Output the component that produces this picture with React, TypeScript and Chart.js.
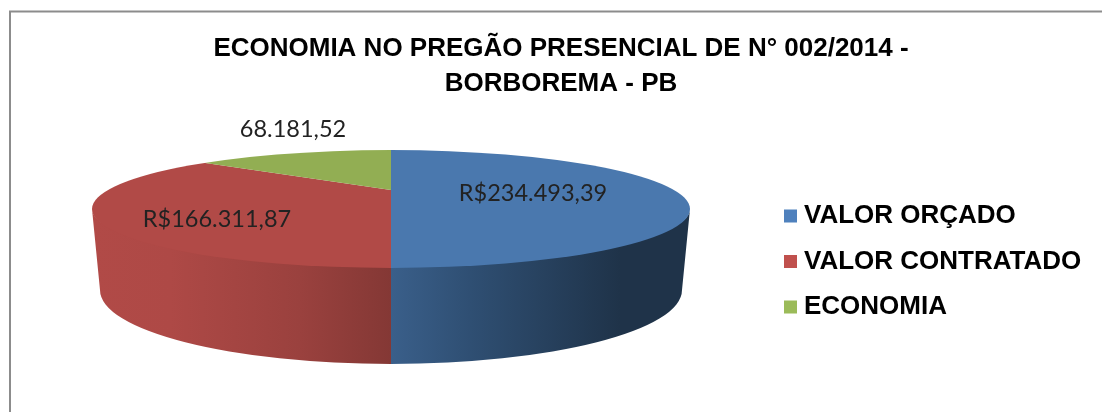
import React, { useEffect, useRef } from "react";
import { Chart, registerables } from "chart.js";

Chart.register(...registerables);

const titleLines = ["ECONOMIA NO PREGÃO PRESENCIAL DE N° 002/2014 -", "BORBOREMA - PB"];
const categories = ["VALOR ORÇADO", "VALOR CONTRATADO", "ECONOMIA"];
const values = [234493.39, 166311.87, 68181.52];
const valueLabels = ["R$234.493,39", "R$166.311,87", "68.181,52"];
const legendColors = ["#4F81BD", "#C0504D", "#9BBB59"];
const topColors = ["#4A78AE", "#B14A47", "#92AE53"];

const CX = 391;
const TOP = { cy: 209, rx: 299, ry: 59 };
const BOTTOM = { cy: 290, rx: 291, ry: 74 };
const LABEL_POS: [number, number][] = [[533, 193], [217, 219], [293, 129]];

const sideStops: [number, string][][] = [
  [[391, "#3A5F8A"], [470, "#2F4F73"], [620, "#1F3349"], [690, "#1F3349"]],
  [[92, "#B14A47"], [170, "#AE4946"], [300, "#9A413E"], [391, "#843835"]],
];

const LEGEND_PADDING = 19.5;
const LEGEND_FONT = 26;

const pie3d = {
  id: "pie3d",
  beforeDraw(chart: any) {
    const { ctx, width, height } = chart;
    ctx.save();
    ctx.fillStyle = "#fff";
    ctx.fillRect(0, 0, width, height);
    ctx.strokeStyle = "#8C8C8C";
    ctx.lineWidth = 2;
    ctx.strokeRect(10, 11.5, width + 20, height + 20);
    ctx.restore();
  },
  afterLayout(chart: any) {
    const l = chart.legend;
    const h = l.bottom - l.top;
    l.left = 784 - LEGEND_PADDING;
    l.right = 1102;
    l.top = 183.5;
    l.bottom = l.top + h;
  },
  beforeDatasetsDraw(chart: any) {
    const { ctx } = chart;
    const arcs = chart.getDatasetMeta(0).data;
    ctx.save();
    arcs.forEach((arc: any, i: number) => {
      const a = Math.max(arc.startAngle, 0);
      const b = Math.min(arc.endAngle, Math.PI);
      if (b <= a || !sideStops[i]) return;
      const stops = sideStops[i];
      const g = ctx.createLinearGradient(stops[0][0], 0, stops[stops.length - 1][0], 0);
      const span = stops[stops.length - 1][0] - stops[0][0];
      stops.forEach(([x, c]) => g.addColorStop((x - stops[0][0]) / span, c));
      ctx.fillStyle = g;
      ctx.beginPath();
      ctx.ellipse(CX, TOP.cy, TOP.rx, TOP.ry - 4, 0, a, b);
      ctx.ellipse(CX, BOTTOM.cy, BOTTOM.rx, BOTTOM.ry, 0, b, a, true);
      ctx.closePath();
      ctx.fill();
    });
    ctx.beginPath();
    ctx.ellipse(CX, TOP.cy, TOP.rx, TOP.ry, 0, 0, Math.PI * 2);
    ctx.clip();
    const arc = arcs[0];
    const R = arc.outerRadius;
    ctx.translate(CX, 190);
    ctx.scale(430 / R, 81 / R);
    ctx.translate(-arc.x, -arc.y);
  },
  afterDatasetsDraw(chart: any) {
    const { ctx } = chart;
    ctx.restore();
    ctx.save();
    ctx.font = "23.5px Lato";
    ctx.fillStyle = "#222";
    ctx.textAlign = "center";
    ctx.textBaseline = "middle";
    valueLabels.forEach((t, i) => ctx.fillText(t, LABEL_POS[i][0], LABEL_POS[i][1]));
    ctx.restore();
  },
  afterDraw(chart: any) {
    const { ctx } = chart;
    const l = chart.legend;
    ctx.save();
    legendColors.forEach((c, i) => {
      const cy = l.top + LEGEND_PADDING + i * (LEGEND_FONT + LEGEND_PADDING) + LEGEND_FONT / 2;
      ctx.fillStyle = c;
      ctx.fillRect(l.left + LEGEND_PADDING, cy - 6.5, 13, 13);
    });
    ctx.restore();
  },
};

export default function App() {
  const ref = useRef<HTMLCanvasElement>(null);
  useEffect(() => {
    const chart = new Chart(ref.current!, {
      type: "pie",
      data: {
        labels: categories,
        datasets: [{ data: values, backgroundColor: topColors, borderWidth: 0 }],
      },
      options: {
        responsive: false,
        animation: false,
        layout: { padding: { left: 20, top: 0, right: 0, bottom: 0 } },
        plugins: {
          tooltip: { enabled: false },
          title: {
            display: true,
            text: titleLines,
            color: "#000",
            font: { family: "'Liberation Sans'", size: 26, weight: "bold", lineHeight: 1.346 },
            padding: { top: 31, bottom: 10 },
          },
          legend: {
            display: true,
            position: "right",
            align: "start",
            labels: {
              color: "#000",
              font: { family: "'Liberation Sans'", size: LEGEND_FONT, weight: "bold" },
              boxWidth: 7,
              boxHeight: 12,
              padding: LEGEND_PADDING,
              generateLabels: () =>
                categories.map((text, i) => ({
                  text,
                  fillStyle: "rgba(0,0,0,0)",
                  strokeStyle: "rgba(0,0,0,0)",
                  lineWidth: 0,
                  index: i,
                })),
            },
          },
        },
      },
      plugins: [pie3d],
    } as any);
    return () => chart.destroy();
  }, []);
  return (
    <canvas
      ref={ref}
      width={1102}
      height={412}
      style={{ position: "absolute", left: 0, top: 0, display: "block" }}
    />
  );
}
